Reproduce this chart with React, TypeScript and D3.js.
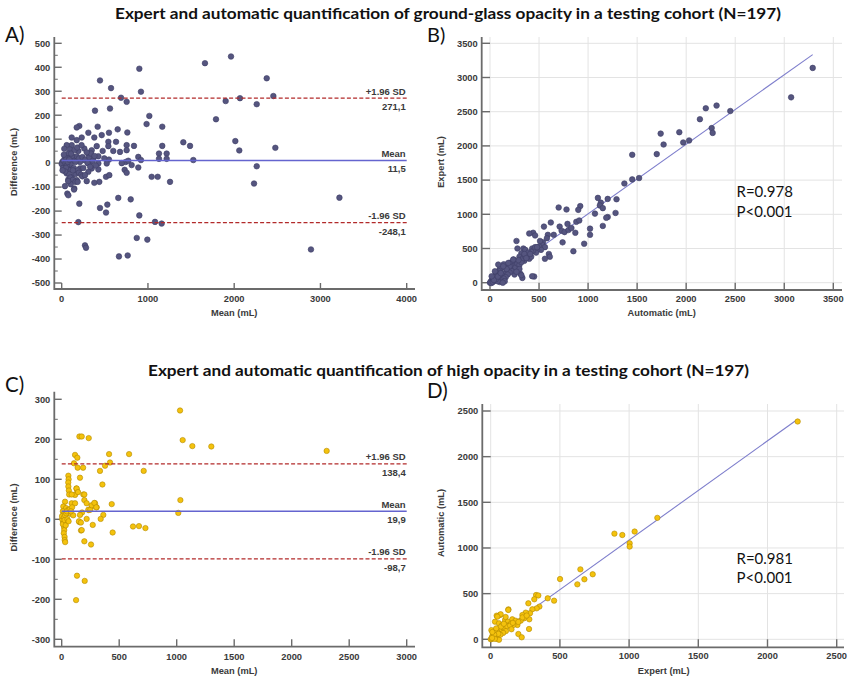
import React from 'react';
import * as d3 from 'd3';

// ---------- DATA ----------
// Panel A: Bland-Altman, ground-glass opacity  [mean, difference]
const ggoBlandAltman: [number, number][] = [
  [1661,417],[1963,445],[2377,354],[2454,280],[2067,271],[1901,259],[2261,246],[1789,183],[2013,92],[2059,53],[2477,64],[2261,-13],[2230,-85],[3220,-144],[2890,-360],[1526,13],[1410,87],[1488,72],
  [919,298],[900,394],[1016,197],[984,163],[1166,152],[1166,72],[1128,40],[1217,40],[1128,18],[1217,18],[888,26],[919,13],[888,-18],[1043,-57],[1113,-57],[1256,-78],[1082,-245],[1159,-252],[900,-218],[870,-312],[993,-319],
  [688,273],[753,256],[761,128],[649,141],[630,89],[753,75],[753,54],[838,72],[676,47],[742,5],[730,-28],[753,-40],[811,-8],[772,10],[696,0],[656,-145],[800,-151],[664,-389],[765,-385],
  [444,345],[572,313],[560,228],[386,219],[417,152],[548,127],[464,117],[541,89],[541,71],[598,51],[475,51],[548,15],[522,-1],[494,20],[514,-57],[552,-50],[529,-173],[514,-206],[444,-187],[436,-78],[425,29],[425,-1],[425,-26],[406,71],
  [309,127],[378,107],[232,107],[348,54],[309,38],[262,61],[193,51],[367,20],[348,-22],[328,-1],[309,-36],[262,13],[212,5],[212,-22],[290,-75],[378,-82],[270,-343],[282,-353],[204,-169],[193,-246],[204,155],[174,149],
  [116,107],[174,96],[116,75],[58,75],[96,57],[77,40],[38,24],[7,5],[0,-4],[30,-18],[77,-13],[135,13],[174,29],[154,-36],[96,-29],[58,-43],[116,-57],[174,-71],[77,-68],[38,-96],[146,-106],[65,-127],[77,-134],[143,-110],
  [20,10],[15,-20],[45,0],[55,20],[25,35],[90,20],[105,-5],[120,30],[140,-20],[160,-45],[185,-30],[200,-40],[225,-48],[240,-55],[60,-10],[85,-45],[100,-60],[130,-70],[110,40],[150,55],[180,65],[230,75],[30,60],[50,-20],[70,5],[40,-35],[10,-30],[88,15],[200,20],[240,25],[160,5],[130,-30],[250,-20],[275,15],[300,0],[320,25],[340,40],[360,10],[380,30],[395,-10],[290,45],[330,-15],[270,-50],[105,-88],[75,-75],[160,-78],[185,-78]
];
const ggoLimits = [271.1, 11.5, -248.1];

// Panel B: correlation, ground-glass opacity  [automatic, expert]
const ggoCorrelation: [number, number][] = [
  [3290,3140],[3070,2710],[2450,2510],[2310,2590],[2200,2550],[2140,2390],[2260,2260],[2270,2190],[2030,2080],[1970,2050],[1930,2200],[1770,2020],[1740,2180],[1700,1880],[1450,1870],[1520,1530],[1450,1510],[1370,1450],
  [1290,1220],[1200,1225],[1100,1240],[1130,1170],[1120,1130],[1150,1090],[1280,1020],[1200,960],[1185,950],[1150,830],[1070,1010],[1020,790],[1020,700],
  [920,1120],[900,1065],[880,890],[910,910],[870,730],[850,460],[960,570],
  [700,1100],[780,1070],[790,860],[710,820],[730,760],[760,740],[740,590],[800,770],[830,800],
  [620,880],[550,820],[590,700],[650,700],[600,420],[610,380],[560,350],
  [540,590],[530,560],[500,530],[560,520],[520,480],[580,650],[510,610],
  [440,730],[460,690],[400,720],[430,500],[480,480],[470,440],
  [270,610],[280,500],[340,500],[360,480],[320,430],[300,380],[380,410],[400,350],[350,320],[420,380],
  [450,90],[430,95],[310,130],[330,70],[320,110],[250,120],
  [240,340],[230,300],[200,290],[180,260],[160,240],[140,270],[120,210],[100,200],[90,170],[70,150],[60,120],[50,100],[40,80],[30,60],[20,40],[10,20],[5,5],[0,0],[15,-5],[30,10],[50,30],[70,40],[90,60],[110,80],[130,100],[150,130],[170,150],[190,180],[210,200],[230,230],[250,250],[270,270],[290,300],[310,320],[330,340],[260,220],[220,170],[200,150],[180,120],[160,80],[140,60],[120,30],[100,10],[80,20],[150,20],[130,0],[60,50],[40,40],[280,280],[300,260],[320,300],[340,360],[360,380],[380,400],[200,240],[170,200],[300,200],[270,160],[440,470],[460,520],[480,520],[420,450],[390,440],[350,420],[370,360],[410,420],[290,330],[100,120],[80,90],[110,140],
  [50,167],[84,265],[135,240],[186,289],[237,338],[17,94]
];
const ggoRegression: [number, number][] = [[0, -10], [3290, 3335]];
const ggoStatsText = ['R=0.978', 'P<0.001'];

// Panel C: Bland-Altman, high opacity  [mean, difference]
const hoBlandAltman: [number, number][] = [
  [1029,272],[1052,198],[1136,183],[1301,182],[2304,171],[1032,48],[1014,16],
  [586,163],[412,163],[420,142],[377,134],[333,121],[713,121],[354,87],[435,38],[362,11],[339,1],[443,-33],[620,-18],[672,-17],[728,-22],
  [154,207],[174,207],[235,203],[116,161],[136,154],[107,140],[139,129],[186,129],[159,104],
  [128,77],[136,69],[116,61],[188,62],[197,48],[217,40],[87,40],[116,40],[290,40],[304,30],[264,33],[235,23],[177,17],[217,1],[159,11],[154,-7],[168,-28],[270,-14],[197,-55],[255,-63],
  [133,-141],[200,-154],[125,-202],
  [58,109],[60,100],[57,92],[58,82],[62,72],[65,62],[87,62],[130,77],[142,68],[29,44],[14,32],[38,28],[58,24],[72,14],[10,20],[15,12],[8,3],[12,-5],[18,-9],[20,-19],[22,-27],[18,-35],[25,-44],[26,-52],[30,-57],[150,-5],[167,-8],[174,-27],[197,62],[232,24],[249,24],[261,35],[284,41],[301,30],
  [5,0],[10,-12],[3,8],[20,5],[30,10],[40,15],[25,-2],[35,-15],[45,20],[50,0],[60,-5],[70,25],[90,30],[100,10],[80,20]
];
const hoLimits = [138.4, 19.9, -98.7];

// Panel D: correlation, high opacity  [expert, automatic]
const hoCorrelation: [number, number][] = [
  [2218,2385],[1204,1330],[1040,1180],[894,1157],[951,1142],[1004,1051],[1004,1015],[648,766],[501,660],[677,657],[737,712],[626,602],
  [458,423],[412,449],[328,485],[344,480],[315,438],[272,394],[352,358],[332,339],[279,219],[277,113],[200,58],[224,22],[128,328],
  [43,259],[67,266],[31,193],[60,175],[104,212],[301,329],[284,285],[253,292],[229,266],[241,230],[127,321],[72,274],[48,248],[108,244],[125,193],[156,219],[180,204],[217,204],[193,157],[164,157],[144,168],[108,157],[84,157],[24,95],[48,95],[60,58],
  [10,30],[20,60],[15,10],[30,40],[40,70],[5,100],[0,0],[8,5],[20,20],[35,25],[50,30],[45,5],[60,-5],[70,90],[80,110],[90,130],[100,120],[120,140],[140,150],[160,180],[200,190],[230,240],[260,260],[150,110],[110,90],[90,70],[70,50],[55,60],[25,50],[12,80],[40,120],[75,140],[95,170],[30,5],[10,15]
];
const hoRegression: [number, number][] = [[0, 0], [2218, 2410]];
const hoStatsText = ['R=0.981', 'P<0.001'];

// Tick values
const ggoDiffTicks = [-500, -400, -300, -200, -100, 0, 100, 200, 300, 400, 500];
const ggoMeanTicks = [0, 1000, 2000, 3000, 4000];
const ggoCorrTicks = [0, 500, 1000, 1500, 2000, 2500, 3000, 3500];
const hoDiffTicks = [-300, -200, -100, 0, 100, 200, 300];
const hoMeanTicks = [0, 500, 1000, 1500, 2000, 2500, 3000];
const hoCorrTicks = [0, 500, 1000, 1500, 2000, 2500];

const limitNames = ['+1.96 SD', 'Mean', '-1.96 SD'];
const titles = [
  'Expert and automatic quantification of ground-glass opacity in a testing cohort (N=197)',
  'Expert and automatic quantification of high opacity in a testing cohort (N=197)',
];

// ---------- STYLE ----------
const AXIS_FONT = '"Liberation Sans", Arial, sans-serif';
const TEXT_FONT = 'Lato, "Open Sans", sans-serif';
const AXIS_COLOR = '#6b6b6b';
const LABEL_COLOR = '#3a3a3a';
const BLUE_DOT = '#55557f';
const BLUE_DOT_EDGE = '#3e3e66';
const GOLD_DOT = '#f4c20d';
const GOLD_DOT_EDGE = '#b48a00';

type Frame = {
  x0: number; x1: number; y0: number; y1: number;
  axisX: number; axisY: number; top: number; right: number;
};

function fmt(v: number) {
  return v.toFixed(1).replace('.', ',');
}

function Axes({ fr, xs, ys, xTicks, yTicks, yMinor, xTitle, yTitle, xTitleY, xLabelY, grid }: any) {
  const minor: number[] = [];
  if (yMinor) {
    for (let i = 0; i < yTicks.length - 1; i++) minor.push((yTicks[i] + yTicks[i + 1]) / 2);
  }
  return (
    <g>
      {grid && (
        <g stroke="#e3e3e3" strokeWidth={1}>
          {xTicks.map((t: number) => (
            <line key={'gx' + t} x1={xs(t)} x2={xs(t)} y1={fr.top} y2={fr.axisY} />
          ))}
          {yTicks.map((t: number) => (
            <line key={'gy' + t} x1={fr.axisX} x2={fr.right} y1={ys(t)} y2={ys(t)} />
          ))}
        </g>
      )}
      <path
        d={`M${fr.axisX},${fr.top} L${fr.axisX},${fr.axisY} L${fr.right},${fr.axisY}`}
        fill="none" stroke={AXIS_COLOR} strokeWidth={1.8}
      />
      {yTicks.map((t: number) => (
        <g key={'yt' + t}>
          <line x1={fr.axisX} x2={fr.x0} y1={ys(t)} y2={ys(t)} stroke={AXIS_COLOR} strokeWidth={1.4} />
          <text x={fr.axisX - 4} y={ys(t) + 3.3} textAnchor="end" fontFamily={AXIS_FONT} fontWeight="bold" fontSize={9.3} fill={LABEL_COLOR}>{t}</text>
        </g>
      ))}
      {minor.map((t) => (
        <line key={'ym' + t} x1={fr.axisX} x2={fr.axisX + 3.5} y1={ys(t)} y2={ys(t)} stroke={AXIS_COLOR} strokeWidth={1} />
      ))}
      {xTicks.map((t: number) => (
        <g key={'xt' + t}>
          <line x1={xs(t)} x2={xs(t)} y1={fr.axisY} y2={fr.y0} stroke={AXIS_COLOR} strokeWidth={1.4} />
          <text x={xs(t)} y={xLabelY} textAnchor="middle" fontFamily={AXIS_FONT} fontWeight="bold" fontSize={9.3} fill={LABEL_COLOR}>{t}</text>
        </g>
      ))}
      <text x={(fr.x0 + fr.x1) / 2} y={xTitleY} textAnchor="middle" fontFamily={AXIS_FONT} fontWeight="bold" fontSize={9.3} fill={LABEL_COLOR}>{xTitle}</text>
      <text transform={`translate(${yTitle.x},${yTitle.y}) rotate(-90)`} textAnchor="middle" fontFamily={AXIS_FONT} fontWeight="bold" fontSize={9.3} fill={LABEL_COLOR}>{yTitle.text}</text>
    </g>
  );
}

function BlandAltman({ data, limits, fr, xDomain, yDomain, xTicks, yTicks, fill, stroke, r, xTitle, yTitle, xTitleY, xLabelY }: any) {
  const xs = d3.scaleLinear().domain(xDomain).range([fr.x0, fr.x1]);
  const ys = d3.scaleLinear().domain(yDomain).range([fr.y0, fr.y1]);
  return (
    <g>
      <Axes fr={fr} xs={xs} ys={ys} xTicks={xTicks} yTicks={yTicks} yMinor xTitle={xTitle} yTitle={yTitle} xTitleY={xTitleY} xLabelY={xLabelY} />
      {data.map((d: [number, number], i: number) => (
        <circle key={i} cx={xs(d[0])} cy={ys(d[1])} r={r} fill={fill} stroke={stroke} strokeWidth={0.6} />
      ))}
      {limits.map((v: number, i: number) => {
        const y = ys(v);
        const isMean = i === 1;
        return (
          <g key={'lim' + i}>
            <line x1={xs(xDomain[0])} x2={xs(xDomain[1])} y1={y} y2={y}
              stroke={isMean ? '#6464cf' : '#b22a2a'} strokeWidth={isMean ? 1.5 : 1.3}
              strokeDasharray={isMean ? undefined : '4,2.2'} />
            <text x={xs(xDomain[1]) - 1} y={y - 3.5} textAnchor="end" fontFamily={AXIS_FONT} fontWeight="bold" fontSize={9.5} fill={LABEL_COLOR}>{limitNames[i]}</text>
            <text x={xs(xDomain[1]) - 1} y={y + 12} textAnchor="end" fontFamily={AXIS_FONT} fontWeight="bold" fontSize={9.5} fill={LABEL_COLOR}>{fmt(v)}</text>
          </g>
        );
      })}
    </g>
  );
}

function Correlation({ data, reg, fr, xDomain, yDomain, xTicks, yTicks, fill, stroke, r, xTitle, yTitle, xTitleY, xLabelY, stats, statsX, statsY }: any) {
  const xs = d3.scaleLinear().domain(xDomain).range([fr.x0, fr.x1]);
  const ys = d3.scaleLinear().domain(yDomain).range([fr.y0, fr.y1]);
  const line = d3.line<[number, number]>().x((d) => xs(d[0])).y((d) => ys(d[1]));
  return (
    <g>
      <Axes fr={fr} xs={xs} ys={ys} xTicks={xTicks} yTicks={yTicks} xTitle={xTitle} yTitle={yTitle} xTitleY={xTitleY} xLabelY={xLabelY} grid />
      <path d={line(reg) || ''} fill="none" stroke="#7e7ecc" strokeWidth={1.1} />
      {data.map((d: [number, number], i: number) => (
        <circle key={i} cx={xs(d[0])} cy={ys(d[1])} r={r} fill={fill} stroke={stroke} strokeWidth={0.6} />
      ))}
      {stats.map((s: string, i: number) => (
        <text key={s} x={statsX} y={statsY[i]} fontFamily={TEXT_FONT} fontSize={15} fill="#111">{s}</text>
      ))}
    </g>
  );
}

export default function App() {
  const frA: Frame = { x0: 61.7, x1: 406.7, y0: 283, y1: 43.3, axisX: 54.3, axisY: 289, top: 37, right: 415 };
  const frB: Frame = { x0: 490, x1: 833.3, y0: 282.7, y1: 43.3, axisX: 481.7, axisY: 290, top: 37, right: 842 };
  const frC: Frame = { x0: 61.7, x1: 406.7, y0: 639.3, y1: 399.3, axisX: 54.3, axisY: 646.7, top: 391.7, right: 415 };
  const frD: Frame = { x0: 490.7, x1: 836.7, y0: 639.3, y1: 411, axisX: 482.3, axisY: 647.3, top: 404, right: 844 };
  return (
    <svg width={851} height={681} viewBox="0 0 851 681" style={{ position: 'absolute', left: 0, top: 0, background: '#fff' }}>
      <rect x={0} y={0} width={851} height={681} fill="#fff" />
      <text x={115} y={19} fontFamily={TEXT_FONT} fontWeight="bold" fontSize={15.5} fill="#111" textLength={666} lengthAdjust="spacingAndGlyphs">{titles[0]}</text>
      <text x={148} y={375.5} fontFamily={TEXT_FONT} fontWeight="bold" fontSize={15.5} fill="#111" textLength={601} lengthAdjust="spacingAndGlyphs">{titles[1]}</text>
      <text x={5} y={41.5} fontFamily={TEXT_FONT} fontSize={20.5} fill="#111">A)</text>
      <text x={427} y={42.3} fontFamily={TEXT_FONT} fontSize={20} fill="#111">B)</text>
      <text x={5} y={391.7} fontFamily={TEXT_FONT} fontSize={20.5} fill="#111">C)</text>
      <text x={427} y={398.3} fontFamily={TEXT_FONT} fontSize={20.5} fill="#111">D)</text>

      <BlandAltman data={ggoBlandAltman} limits={ggoLimits} fr={frA} xDomain={[0, 4000]} yDomain={[-500, 500]}
        xTicks={ggoMeanTicks} yTicks={ggoDiffTicks} fill={BLUE_DOT} stroke={BLUE_DOT_EDGE} r={2.8}
        xTitle="Mean (mL)" yTitle={{ text: 'Difference (mL)', x: 16.5, y: 162 }} xTitleY={316} xLabelY={302} />
      <Correlation data={ggoCorrelation} reg={ggoRegression} fr={frB} xDomain={[0, 3500]} yDomain={[0, 3500]}
        xTicks={ggoCorrTicks} yTicks={ggoCorrTicks} fill={BLUE_DOT} stroke={BLUE_DOT_EDGE} r={2.8}
        xTitle="Automatic (mL)" yTitle={{ text: 'Expert (mL)', x: 443.5, y: 162 }} xTitleY={316} xLabelY={301.5}
        stats={ggoStatsText} statsX={736.5} statsY={[197.3, 216.7]} />
      <BlandAltman data={hoBlandAltman} limits={hoLimits} fr={frC} xDomain={[0, 3000]} yDomain={[-300, 300]}
        xTicks={hoMeanTicks} yTicks={hoDiffTicks} fill={GOLD_DOT} stroke={GOLD_DOT_EDGE} r={2.7}
        xTitle="Mean (mL)" yTitle={{ text: 'Difference (mL)', x: 16.5, y: 517.5 }} xTitleY={674} xLabelY={659.5} />
      <Correlation data={hoCorrelation} reg={hoRegression} fr={frD} xDomain={[0, 2500]} yDomain={[0, 2500]}
        xTicks={hoCorrTicks} yTicks={hoCorrTicks} fill={GOLD_DOT} stroke={GOLD_DOT_EDGE} r={2.7}
        xTitle="Expert (mL)" yTitle={{ text: 'Automatic (mL)', x: 443.5, y: 523 }} xTitleY={674} xLabelY={659.3}
        stats={hoStatsText} statsX={736.5} statsY={[564, 583.3]} />
    </svg>
  );
}
